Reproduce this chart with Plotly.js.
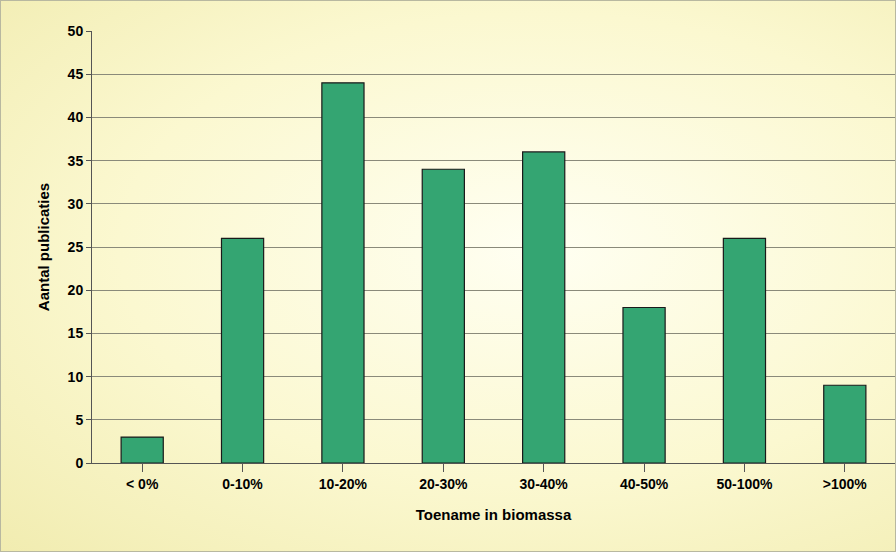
<!DOCTYPE html>
<html>
<head>
<script src="https://cdn.plot.ly/plotly-3.0.1.min.js"></script>
<style>
  body { margin: 0; }
  #chart {
    width: 896px; height: 552px; box-sizing: border-box;
    border: 1px solid #b8b8a0;
    background: radial-gradient(ellipse at 60% 45%, #fffff2 0%, #fbf8d0 55%, #f1ecb0 100%);
  }
</style>
</head>
<body>
<div id="chart"></div>
<script>
const categories = ["< 0%", "0-10%", "10-20%", "20-30%", "30-40%", "40-50%", "50-100%", ">100%"];
const counts = [3, 26, 44, 34, 36, 18, 26, 9];
const yTicks = [0, 5, 10, 15, 20, 25, 30, 35, 40, 45, 50];

const data = [{
  x: categories,
  y: counts,
  type: "bar",
  marker: { color: "#34a572", line: { color: "#1a1a1a", width: 1.2 } },
  hoverinfo: "x+y"
}];

const layout = {
  width: 894, height: 550,
  margin: { l: 91, r: 0, t: 30, b: 88 },
  paper_bgcolor: "rgba(0,0,0,0)",
  plot_bgcolor: "rgba(0,0,0,0)",
  bargap: 0.58,
  showlegend: false,
  font: { family: "Liberation Sans, Arial", size: 14, color: "#000" },
  xaxis: {
    title: { text: "<b>Toename in biomassa</b>", font: { size: 15 }, standoff: 18 },
    tickvals: categories,
    ticktext: categories.map(c => "<b>" + c.replace("<", "&lt;").replace(">", "&gt;") + "</b>"),
    showline: true, linecolor: "#555", ticks: "outside", ticklen: 8, tickcolor: "#555",
    showgrid: false
  },
  yaxis: {
    title: { text: "<b>Aantal publicaties</b>", font: { size: 15 }, standoff: 14 },
    range: [0, 50],
    tickvals: yTicks,
    ticktext: yTicks.map(v => "<b>" + v + "</b>"),
    showline: true, linecolor: "#555", ticks: "outside", ticklen: 5, tickcolor: "#555",
    gridcolor: "#8a8a7a", gridwidth: 1, zeroline: false
  }
};

Plotly.newPlot("chart", data, layout, { displayModeBar: false });
</script>
</body>
</html>
